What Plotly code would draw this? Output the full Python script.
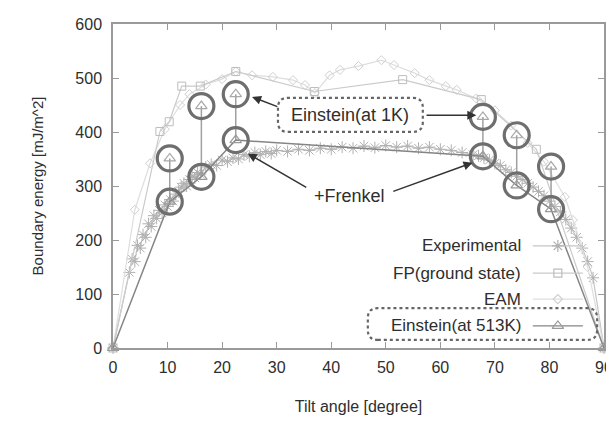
import plotly.graph_objects as go

# ---------------- data ----------------
exp_angle = [0, 3.0, 3.5, 4.0, 4.5, 5.0, 5.5, 6.0, 6.5, 7.0, 7.5, 8.0, 8.5, 9.0, 9.5, 10.0,
             10.5, 11, 11.5, 12, 12.5, 13, 13.5, 14, 14.5, 15, 15.5, 16, 17, 18, 19, 20,
             21, 22, 23, 24, 25, 26, 27, 28, 29, 30, 32, 34, 36, 38, 40, 42, 44, 46, 48,
             50, 52, 54, 56, 58, 60, 62, 64, 66, 67, 68, 69, 70, 71, 72, 73, 74, 75, 76,
             77, 78, 79, 80, 81, 82, 83, 84, 85, 86, 87, 88, 90]
exp_energy = [0, 140, 165, 160, 190, 185, 210, 205, 230, 225, 245, 240, 255, 250, 265, 262,
              275, 272, 285, 290, 298, 305, 300, 312, 318, 315, 325, 322, 335, 340, 338, 348,
              345, 352, 350, 358, 355, 362, 358, 364, 360, 366, 364, 368, 366, 370, 368, 372,
              370, 374, 371, 375, 372, 374, 370, 372, 368, 366, 362, 358, 356, 352, 348, 342,
              338, 330, 325, 318, 312, 305, 298, 290, 282, 272, 262, 252, 238, 222, 205, 185,
              160, 130, 0]

fp_angle = [0, 8.6, 10.3, 12.6, 16.0, 22.5, 36.9, 53.1, 67.5, 77.6, 90]
fp_energy = [0, 401, 419, 485, 485, 512, 475, 497, 460, 368, 0]

eam_angle = [0, 4.0, 6.8, 9.5, 12.3, 14.0, 17.0, 20.0, 22.5, 25.5, 29.3, 33.0, 35.2, 37.0,
             39.7, 41.6, 45.0, 49.2, 51.5, 55.3, 58.0, 61.0, 63.0, 66.6, 70.0, 73.0, 76.0,
             79.0, 82.8, 84.3, 87.0, 90]
eam_energy = [0, 256, 342, 405, 450, 470, 488, 498, 512, 505, 502, 496, 487, 472,
              505, 515, 522, 533, 524, 509, 496, 485, 478, 462, 440, 412, 380,
              345, 280, 237, 150, 0]

ein_angle = [0, 10.4, 16.2, 22.5, 67.8, 74.0, 80.3, 90]
ein513_energy = [0, 271, 317, 385, 355, 301, 257, 0]

ein1k_angle = [10.4, 16.2, 22.5, 67.8, 74.0, 80.3]
ein1k_energy = [351, 448, 470, 428, 394, 336]
ein513_marked = [271, 317, 385, 355, 301, 257]

x_ticks = [0, 10, 20, 30, 40, 50, 60, 70, 80, 90]
y_ticks = [0, 100, 200, 300, 400, 500, 600]

legend_names = ["Experimental", "FP(ground state)", "EAM", "Einstein(at 513K)"]

FONT = "Liberation Sans, Arial, sans-serif"
TXT = "#2e2e2e"

EXP_L, EXP_M = "#c6c6c6", "#b0b0b0"
FP_L, FP_M = "#cacaca", "#bdbdbd"
EAM_L, EAM_M = "#dedede", "#d0d0d0"
EIN_L, EIN_M = "#858585", "#9a9a9a"

fig = go.Figure()

# experimental
fig.add_trace(go.Scatter(x=exp_angle, y=exp_energy, mode="lines+markers",
                         line=dict(color=EXP_L, width=1.2),
                         marker=dict(symbol="asterisk-open", size=10, color=EXP_M,
                                     line=dict(color=EXP_M, width=1)),
                         cliponaxis=False, showlegend=False))
# EAM
fig.add_trace(go.Scatter(x=eam_angle, y=eam_energy, mode="lines+markers",
                         line=dict(color=EAM_L, width=1.2),
                         marker=dict(symbol="diamond-open", size=7, color=EAM_M,
                                     line=dict(color=EAM_M, width=1)),
                         cliponaxis=False, showlegend=False))
# FP
fig.add_trace(go.Scatter(x=fp_angle, y=fp_energy, mode="lines+markers",
                         line=dict(color=FP_L, width=1.2),
                         marker=dict(symbol="square-open", size=8, color=FP_M,
                                     line=dict(color=FP_M, width=1)),
                         cliponaxis=False, showlegend=False))
# vertical connectors 513K -> 1K
vx, vy = [], []
for a, lo, hi in zip(ein1k_angle, ein513_marked, ein1k_energy):
    vx += [a, a, None]
    vy += [lo, hi, None]
fig.add_trace(go.Scatter(x=vx, y=vy, mode="lines",
                         line=dict(color="#a0a0a0", width=1.5), showlegend=False))
# Einstein 513K
fig.add_trace(go.Scatter(x=ein_angle, y=ein513_energy, mode="lines+markers",
                         line=dict(color=EIN_L, width=1.5),
                         marker=dict(symbol="triangle-up-open", size=10, color=EIN_M,
                                     line=dict(color=EIN_M, width=1.2)),
                         cliponaxis=False, showlegend=False))
# Einstein 1K
fig.add_trace(go.Scatter(x=ein1k_angle, y=ein1k_energy, mode="markers",
                         marker=dict(symbol="triangle-up-open", size=10, color="#a8a8a8",
                                     line=dict(color="#a8a8a8", width=1.2)),
                         showlegend=False))
# highlight circles
fig.add_trace(go.Scatter(x=ein1k_angle + ein1k_angle, y=ein513_marked + ein1k_energy,
                         mode="markers",
                         marker=dict(symbol="circle-open", size=25, color="#6e6e6e",
                                     line=dict(color="#6e6e6e", width=3.2)),
                         showlegend=False))

# ---------- custom gnuplot-style key (on overlay axes 0..1) ----------
key_rows = [0.315, 0.231, 0.151, 0.068]
key_styles = [
    (EXP_L, "asterisk-open", EXP_M, 10),
    (FP_L, "square-open", FP_M, 8),
    (EAM_L, "diamond-open", EAM_M, 7),
    (EIN_L, "triangle-up-open", EIN_M, 10),
]
for name, yk, (lc, sym, mc, ms) in zip(legend_names, key_rows, key_styles):
    fig.add_trace(go.Scatter(x=[0.855, 0.957], y=[yk, yk], mode="lines",
                             line=dict(color=lc, width=1.3), xaxis="x2", yaxis="y2",
                             showlegend=False, hoverinfo="skip"))
    fig.add_trace(go.Scatter(x=[0.906], y=[yk], mode="markers",
                             marker=dict(symbol=sym, size=ms, color=mc,
                                         line=dict(color=mc, width=1.2)),
                             xaxis="x2", yaxis="y2", showlegend=False, hoverinfo="skip"))
    fig.add_annotation(x=0.835, y=yk, xref="paper", yref="paper", text=name,
                       showarrow=False, xanchor="right", yanchor="middle",
                       font=dict(family=FONT, size=17, color=TXT))


def rounded_box(x0, y0, x1, y1, rpx=10, wpx=491, hpx=324):
    rx, ry = rpx / wpx, rpx / hpx
    return (f"M {x0+rx},{y0} L {x1-rx},{y0} Q {x1},{y0} {x1},{y0+ry} "
            f"L {x1},{y1-ry} Q {x1},{y1} {x1-rx},{y1} L {x0+rx},{y1} "
            f"Q {x0},{y1} {x0},{y1-ry} L {x0},{y0+ry} Q {x0},{y0} {x0+rx},{y0} Z")


fig.add_shape(type="path", xref="paper", yref="paper",
              path=rounded_box(0.519, 0.025, 0.986, 0.123),
              line=dict(color="#666666", width=2.2, dash="dot"))
fig.add_shape(type="path", xref="paper", yref="paper",
              path=rounded_box(0.336, 0.667, 0.631, 0.772),
              line=dict(color="#666666", width=2.2, dash="dot"))

# labels
fig.add_annotation(x=43.4, y=431, xref="x", yref="y", text="Einstein(at 1K)",
                   showarrow=False, font=dict(family=FONT, size=18, color=TXT))
fig.add_annotation(x=43.4, y=281, xref="x", yref="y", text="+Frenkel",
                   showarrow=False, font=dict(family=FONT, size=18, color=TXT))

# arrows
arrows = [
    (25.5, 465, 30.4, 446),
    (66.6, 431, 57.2, 431),
    (24.7, 360, 35.7, 296),
    (65.9, 343, 51.1, 289),
]
for hx, hy, tx, ty in arrows:
    fig.add_annotation(x=hx, y=hy, ax=tx, ay=ty, xref="x", yref="y", axref="x", ayref="y",
                       text="", showarrow=True, arrowhead=2, arrowsize=1.2,
                       arrowwidth=1.5, arrowcolor="#333333")

# page body has an 8px default margin, so the figure is 8px smaller on each axis
fig.update_layout(
    width=606, height=413,
    margin=dict(l=105, r=10, t=16, b=73),
    paper_bgcolor="white", plot_bgcolor="white",
    font=dict(family=FONT, size=16, color=TXT),
    showlegend=False,
    xaxis=dict(range=[0, 90], tickvals=x_ticks, ticktext=[str(v) for v in x_ticks],
               showgrid=False, zeroline=False, showline=True, linecolor="#9a9a9a",
               linewidth=1.5, mirror="ticks", ticks="inside", ticklen=6,
               tickcolor="#9a9a9a", tickwidth=1.2, automargin=False,
               ticklabelstandoff=4,
               tickfont=dict(family=FONT, size=16, color=TXT),
               title=dict(text="Tilt angle [degree]", standoff=26,
                          font=dict(family=FONT, size=16, color=TXT))),
    yaxis=dict(range=[0, 600], tickvals=y_ticks, ticktext=[str(v) for v in y_ticks],
               showgrid=False, zeroline=False, showline=True, linecolor="#9a9a9a",
               linewidth=1.5, mirror="ticks", ticks="inside", ticklen=6,
               tickcolor="#9a9a9a", tickwidth=1.2, automargin=False,
               ticklabelstandoff=6,
               tickfont=dict(family=FONT, size=16, color=TXT),
               title=dict(text="Boundary energy [mJ/m^2]", standoff=28,
                          font=dict(family=FONT, size=15, color=TXT))),
    xaxis2=dict(range=[0, 1], overlaying="x", visible=False, fixedrange=True),
    yaxis2=dict(range=[0, 1], overlaying="y", visible=False, fixedrange=True),
)

fig.write_html("out.html")
